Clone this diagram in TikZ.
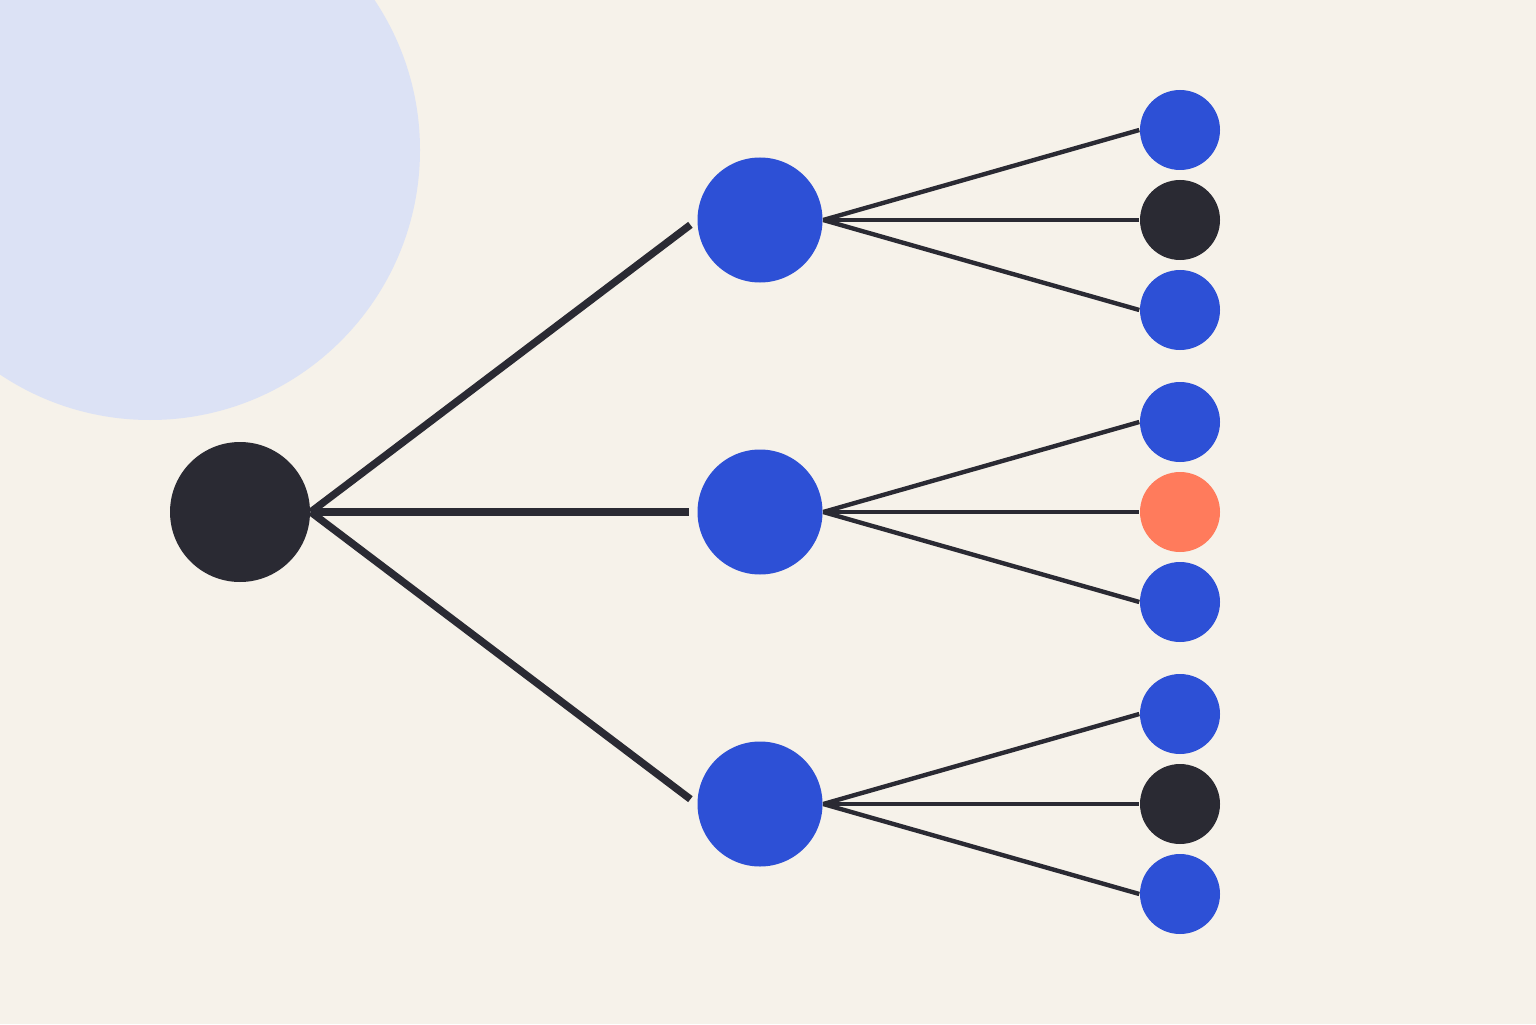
\documentclass[tikz,border=0pt]{standalone}
\usepackage{xcolor}
\usepackage{tikz}
\usetikzlibrary{positioning}
\definecolor{paper}{HTML}{F6F2EA}
\definecolor{haze}{HTML}{DCE2F5}
\definecolor{ink}{HTML}{2A2A33}
\definecolor{royal}{HTML}{2D50D6}
\definecolor{coral}{HTML}{FF7B5C}

\begin{document}
\begin{tikzpicture}[-,node distance=0.9cm,
                    root node/.style={circle,fill=ink,minimum size=1.4cm,inner sep=0pt},
                    mid node/.style={circle,fill=royal,minimum size=1.25cm,inner sep=0pt},
                    leaf node/.style={circle,fill=royal,minimum size=0.8cm,inner sep=0pt},
                    trunk/.style={draw=ink,line width=2.1pt,shorten >=0.08cm},
                    twig/.style={draw=ink,line width=1.25pt}]
%backdrop
  \fill[paper] (0,0) rectangle (15.36,10.24);
  \useasboundingbox (0,0) rectangle (15.36,10.24);
  \begin{scope}
    \clip (0,0) rectangle (15.36,10.24);
    \fill[haze] (1.5,8.74) circle (2.7cm);
  \end{scope}
%root
  \node[root node] (1) at (2.4,5.12) {};
%middle level
  \node[mid node] (2) [shift={(5.2cm,2.92cm)}] at (1) {};
  \node[mid node] (3) [shift={(5.2cm,0cm)}] at (1) {};
  \node[mid node] (4) [shift={(5.2cm,-2.92cm)}] at (1) {};
%first group
  \node[leaf node,fill=ink] (6) [shift={(4.2cm,0cm)}] at (2) {};
  \node[leaf node] (5) [above of=6] {};
  \node[leaf node] (7) [below of=6] {};
%second group
  \node[leaf node,fill=coral] (9) [shift={(4.2cm,0cm)}] at (3) {};
  \node[leaf node] (8) [above of=9] {};
  \node[leaf node] (10) [below of=9] {};
%third group
  \node[leaf node,fill=ink] (12) [shift={(4.2cm,0cm)}] at (4) {};
  \node[leaf node] (11) [above of=12] {};
  \node[leaf node] (13) [below of=12] {};

  \path[trunk]
  (1.east) edge (2.west)
  (1.east) edge (3.west)
  (1.east) edge (4.west);

  \path[twig]
  (2.east) edge (5.west)
  (2.east) edge (6.west)
  (2.east) edge (7.west)

  (3.east) edge (8.west)
  (3.east) edge (9.west)
  (3.east) edge (10.west)

  (4.east) edge (11.west)
  (4.east) edge (12.west)
  (4.east) edge (13.west);

\end{tikzpicture}
\end{document}
